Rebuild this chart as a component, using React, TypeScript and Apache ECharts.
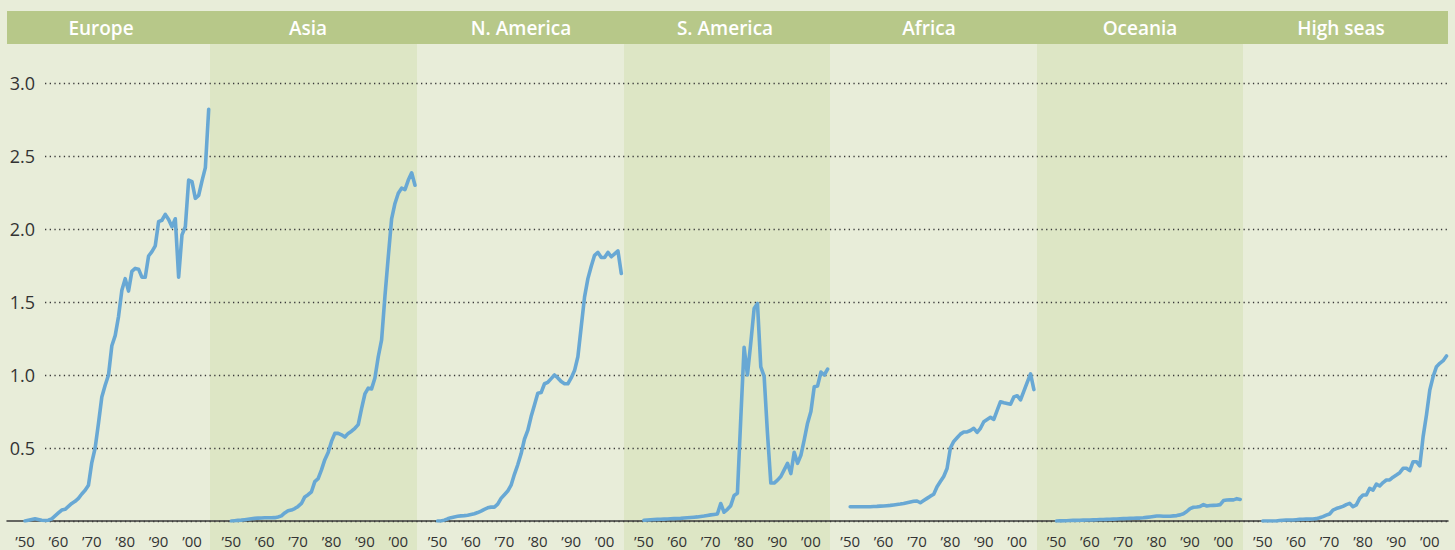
import React, { useEffect, useRef } from 'react';
import * as echarts from 'echarts';

const REGIONS = ['Europe', 'Asia', 'N. America', 'S. America', 'Africa', 'Oceania', 'High seas'];
const YEARS = Array.from({ length: 56 }, (_, i) => 1950 + i);
const Y_TICKS = [0, 0.5, 1.0, 1.5, 2.0, 2.5, 3.0];

const EUROPE = [
  0.0, 0.005, 0.01, 0.015, 0.01, 0.005, 0.003, 0.005, 0.015, 0.035,
  0.055, 0.075, 0.08, 0.1, 0.12, 0.135, 0.155, 0.185, 0.21, 0.245,
  0.4, 0.5, 0.67, 0.85, 0.93, 1.0, 1.2, 1.27, 1.4, 1.58,
  1.66, 1.575, 1.71, 1.73, 1.725, 1.67, 1.67, 1.815, 1.845, 1.885,
  2.05, 2.06, 2.1, 2.065, 2.015, 2.07, 1.67, 1.96, 2.015, 2.335,
  2.325, 2.21, 2.23, 2.33, 2.42, 2.82,
];
const ASIA = [
  0.0, 0.002, 0.004, 0.006, 0.009, 0.012, 0.015, 0.018, 0.02, 0.021,
  0.022, 0.022, 0.022, 0.023, 0.028, 0.035, 0.055, 0.07, 0.075, 0.085,
  0.1, 0.12, 0.165, 0.18, 0.2, 0.27, 0.29, 0.35, 0.42, 0.47,
  0.545, 0.6, 0.6, 0.59, 0.575, 0.6, 0.615, 0.635, 0.66, 0.77,
  0.87, 0.91, 0.905, 0.98, 1.125, 1.24, 1.54, 1.81, 2.07, 2.175,
  2.245, 2.28, 2.27, 2.335, 2.385, 2.3,
];
const N_AMERICA = [
  0.0, 0.0, 0.006, 0.015, 0.023, 0.028, 0.032, 0.035, 0.037, 0.04,
  0.045, 0.05, 0.058, 0.068, 0.08, 0.09, 0.095, 0.095, 0.115, 0.155,
  0.18, 0.205, 0.245, 0.32, 0.385, 0.46, 0.56, 0.62, 0.715, 0.795,
  0.875, 0.88, 0.94, 0.95, 0.975, 1.0, 0.98, 0.955, 0.94, 0.94,
  0.98, 1.03, 1.125, 1.33, 1.535, 1.66, 1.745, 1.82, 1.84, 1.805,
  1.805, 1.84, 1.81, 1.83, 1.85, 1.695,
];
const S_AMERICA = [
  0.005, 0.007, 0.009, 0.01, 0.011, 0.012, 0.013, 0.014, 0.015, 0.016,
  0.017, 0.018, 0.02, 0.022, 0.024, 0.026, 0.028, 0.031, 0.034, 0.038,
  0.042, 0.045, 0.048, 0.12, 0.06, 0.08, 0.105, 0.175, 0.19, 0.7,
  1.19, 1.0, 1.22, 1.455, 1.49, 1.055, 0.99, 0.6, 0.26, 0.26,
  0.28, 0.305, 0.35, 0.395, 0.325, 0.47, 0.395, 0.45, 0.555, 0.67,
  0.75, 0.92, 0.925, 1.02, 1.0, 1.04,
];
const AFRICA = [
  0.098, 0.098, 0.098, 0.098, 0.098, 0.098, 0.098, 0.099, 0.1, 0.102,
  0.103, 0.105, 0.107, 0.11, 0.113, 0.116, 0.12, 0.125, 0.13, 0.135,
  0.137, 0.125, 0.14, 0.155, 0.17, 0.183, 0.235, 0.27, 0.305, 0.36,
  0.5, 0.545, 0.57, 0.595, 0.61, 0.61, 0.62, 0.635, 0.607, 0.635,
  0.68, 0.695, 0.71, 0.696, 0.757, 0.817, 0.81, 0.805, 0.8, 0.85,
  0.858, 0.83, 0.89, 0.95, 1.007, 0.9,
];
const OCEANIA = [
  0.0, 0.001, 0.001, 0.002, 0.003, 0.004, 0.004, 0.005, 0.006, 0.007,
  0.007, 0.008, 0.009, 0.01, 0.01, 0.011, 0.012, 0.013, 0.014, 0.015,
  0.016, 0.017, 0.018, 0.019, 0.02, 0.02, 0.022, 0.025, 0.028, 0.031,
  0.034, 0.034, 0.033, 0.033, 0.033, 0.035, 0.037, 0.042, 0.05, 0.065,
  0.085, 0.094, 0.096, 0.1, 0.112, 0.103, 0.106, 0.107, 0.108, 0.112,
  0.14, 0.144, 0.145, 0.145, 0.153, 0.148,
];
const HIGH_SEAS = [
  0.0, 0.0, 0.0, 0.0, 0.0, 0.003, 0.005, 0.007, 0.007, 0.007,
  0.009, 0.011, 0.012, 0.013, 0.013, 0.014, 0.016, 0.022, 0.03, 0.04,
  0.048, 0.075, 0.085, 0.092, 0.1, 0.112, 0.121, 0.098, 0.11, 0.155,
  0.178, 0.178, 0.224, 0.212, 0.253, 0.24, 0.263, 0.281, 0.281, 0.3,
  0.315, 0.331, 0.361, 0.361, 0.345, 0.406, 0.406, 0.377, 0.578, 0.726,
  0.897, 0.989, 1.057, 1.08, 1.098, 1.13,
];

const VALUES = [EUROPE, ASIA, N_AMERICA, S_AMERICA, AFRICA, OCEANIA, HIGH_SEAS];

// layout
const BOUNDS = [7, 210, 417, 624, 830, 1037, 1243, 1448];
const ORIGIN_X = [25, 231.3, 437.6, 643.9, 850.2, 1056.5, 1262.8];
const HEADER_CX = [101, 308, 521, 725, 929, 1140, 1341];
const PX_PER_YEAR = 3.34;
const PLOT_TOP = 83;
const PLOT_H = 438;

const LIGHT = '#e8edd9';
const DARK = '#dde6c5';
const HEADER = '#b7c889';
const LINE = '#68a8d4';
const TEXT = '#333333';

export default function App() {
  const ref = useRef<HTMLDivElement>(null);

  useEffect(() => {
    if (!ref.current) return;
    const chart = echarts.init(ref.current, null, { renderer: 'svg' });

    const grid: any[] = [];
    const xAxis: any[] = [];
    const yAxis: any[] = [];
    const series: any[] = [];

    // shaded panels (Asia, S. America, Oceania)
    [1, 3, 5].forEach((p) => {
      const gi = grid.length;
      grid.push({
        left: BOUNDS[p], top: 44, width: BOUNDS[p + 1] - BOUNDS[p], height: 506,
        show: true, backgroundColor: DARK, borderWidth: 0, containLabel: false,
      });
      xAxis.push({ gridIndex: gi, type: 'value', show: false, min: 0, max: 1 });
      yAxis.push({ gridIndex: gi, type: 'value', show: false, min: 0, max: 1 });
    });

    // dotted gridlines + y labels
    {
      const gi = grid.length;
      grid.push({ left: 45, top: PLOT_TOP, width: 1448 - 45, height: PLOT_H });
      xAxis.push({ gridIndex: gi, type: 'value', show: false, min: 0, max: 1 });
      yAxis.push({
        gridIndex: gi, type: 'value', min: Y_TICKS[0], max: Y_TICKS[Y_TICKS.length - 1], interval: 0.5,
        axisLine: { show: false }, axisTick: { show: false },
        splitLine: { show: true, lineStyle: { color: '#3a3a3a', width: 1.3, type: [1.3, 3.4] } },
        axisLabel: {
          margin: 10, fontSize: 18, color: TEXT, fontFamily: 'Open Sans',
          formatter: (v: number) => (v === 0 ? '' : v.toFixed(1)),
        },
      });
    }

    // solid baseline
    {
      const gi = grid.length;
      grid.push({ left: 7, top: PLOT_TOP, width: 1448 - 7, height: PLOT_H });
      xAxis.push({
        gridIndex: gi, type: 'value', min: 0, max: 1,
        axisLine: { show: true, lineStyle: { color: '#3a3a3a', width: 1.5 } },
        axisTick: { show: false }, axisLabel: { show: false }, splitLine: { show: false },
      });
      yAxis.push({ gridIndex: gi, type: 'value', show: false, min: 0, max: 3 });
    }

    // data panels
    REGIONS.forEach((name, i) => {
      const gi = grid.length;
      grid.push({
        left: ORIGIN_X[i], top: PLOT_TOP,
        width: (YEARS[YEARS.length - 1] - YEARS[0]) * PX_PER_YEAR, height: PLOT_H,
      });
      xAxis.push({
        gridIndex: gi, type: 'value', min: YEARS[0], max: YEARS[YEARS.length - 1], interval: 10,
        axisLine: { show: false }, axisTick: { show: false }, splitLine: { show: false },
        axisLabel: {
          margin: 12, fontSize: 15, lineHeight: 15, color: TEXT, fontFamily: 'Open Sans',
          formatter: (v: number) => (v % 10 === 0 ? '\u2019' + String(v).slice(2) : ''),
        },
      });
      yAxis.push({ gridIndex: gi, type: 'value', show: false, min: 0, max: 3 });
      series.push({
        name, type: 'line', xAxisIndex: gi, yAxisIndex: gi,
        data: YEARS.map((y, k) => [y, VALUES[i][k]]),
        showSymbol: false, symbol: 'none',
        lineStyle: { color: LINE, width: 3.6, join: 'round', cap: 'round' },
        z: 5,
      });
    });

    const graphic: any[] = [
      { type: 'rect', shape: { x: 7, y: 11, width: 1441, height: 33 }, style: { fill: HEADER }, silent: true },
      ...REGIONS.map((name, i) => ({
        type: 'text', x: HEADER_CX[i], y: 28,
        style: {
          text: name, fill: '#ffffff', fontSize: 19, fontWeight: 600, fontFamily: 'Open Sans',
          align: 'center', verticalAlign: 'middle',
        },
        silent: true,
      })),
    ];

    chart.setOption({
      animation: false,
      backgroundColor: LIGHT,
      grid, xAxis, yAxis, series, graphic,
    });

    return () => chart.dispose();
  }, []);

  return (
    <div
      ref={ref}
      style={{ position: 'absolute', left: 0, top: 0, width: 1455, height: 550, background: LIGHT }}
    />
  );
}
